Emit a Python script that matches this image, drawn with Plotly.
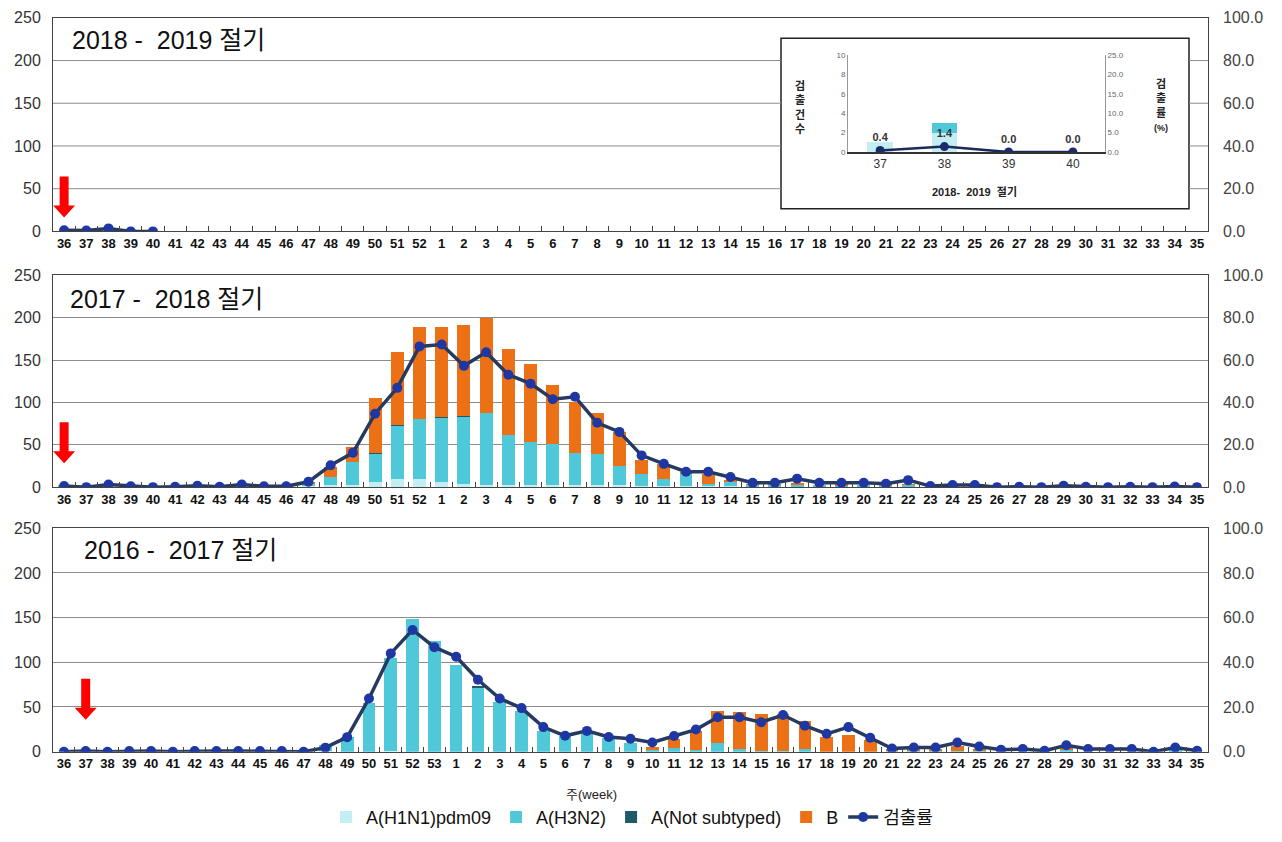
import plotly.graph_objects as go

W, H = 1282, 842

# ---------------- categories ----------------
weeks_52 = ["36", "37", "38", "39", "40", "41", "42", "43", "44", "45", "46", "47", "48", "49", "50", "51", "52",
            "1", "2", "3", "4", "5", "6", "7", "8", "9", "10", "11", "12", "13", "14", "15", "16", "17", "18",
            "19", "20", "21", "22", "23", "24", "25", "26", "27", "28", "29", "30", "31", "32", "33", "34", "35"]
weeks_53 = ["36", "37", "38", "39", "40", "41", "42", "43", "44", "45", "46", "47", "48", "49", "50", "51", "52", "53",
            "1", "2", "3", "4", "5", "6", "7", "8", "9", "10", "11", "12", "13", "14", "15", "16", "17", "18",
            "19", "20", "21", "22", "23", "24", "25", "26", "27", "28", "29", "30", "31", "32", "33", "34", "35"]

# ---------------- 2018-2019 ----------------
weeks_1819 = ["36", "37", "38", "39", "40"]
h1n1_1819 = [0, 1, 2, 0, 0]
h3n2_1819 = [0, 0, 1, 0, 0]
ns_1819 = [0, 0, 0, 0, 0]
b_1819 = [0, 0, 0, 0, 0]
rate_1819 = [0.5, 0.4, 1.4, 0.0, 0.0]

# inset
inset_weeks = ["37", "38", "39", "40"]
inset_h1n1 = [1, 2, 0, 0]
inset_h3n2 = [0, 1, 0, 0]
inset_rate = [0.4, 1.4, 0.0, 0.0]

# ---------------- 2017-2018 ----------------
h1n1_1718 = [0, 0, 1, 0, 0, 0, 0, 0, 1, 0, 0, 1,
             2, 2, 6, 10, 10,
             6, 4, 3, 2, 2, 2, 2, 2, 2,
             1, 1, 1, 1, 1,
             0, 0, 0, 0, 0, 0, 0, 0, 0, 0, 0, 0, 0, 0, 0, 0, 0, 0, 0, 0, 0]
h3n2_1718 = [1, 0, 1, 1, 0, 0, 1, 0, 1, 1, 1, 3,
             10, 28, 33, 62, 70,
             76, 79, 84, 60, 51, 49, 38, 37, 23,
             15, 9, 14, 3, 5,
             2, 2, 3, 1, 1, 1, 1, 2, 0, 1, 1, 0, 0, 0, 0, 0, 0, 0, 0, 0, 0]
ns_1718 = [0, 0, 0, 0, 0, 0, 0, 0, 0, 0, 0, 0,
           0, 0, 1, 1, 1,
           1, 1, 1, 0, 0, 0, 0, 0, 0,
           0, 0, 0, 0, 0,
           0, 0, 0, 0, 0, 0, 0, 0, 0, 0, 0, 0, 0, 0, 0, 0, 0, 0, 0, 0, 0]
b_1718 = [0, 0, 0, 0, 0, 0, 0, 0, 0, 0, 0, 1,
          12, 17, 65, 87, 108,
          106, 108, 112, 101, 92, 70, 60, 49, 40,
          16, 17, 2, 11, 3,
          1, 1, 1, 0, 1, 0, 1, 1, 0, 1, 0, 0, 0, 0, 0, 0, 0, 0, 0, 0, 0]
rate_1718 = [0.5, 0.0, 1.2, 0.4, 0.0, 0.2, 0.6, 0.2, 1.2, 0.4, 0.4, 2.5,
             10.3, 16.2, 34.7, 46.9, 66.5,
             67.4, 57.3, 63.7, 53.1, 48.9, 41.5, 42.7, 30.4, 26.1,
             15.0, 11.0, 7.3, 7.3, 4.8,
             2.1, 2.1, 4.0, 2.1, 2.1, 2.1, 1.6, 3.3, 0.5, 1.0, 1.0, 0.0, 0.2, 0.0, 0.6, 0.2, 0.0, 0.2, 0.0, 0.3, 0.0]

# ---------------- 2016-2017 ----------------
h1n1_1617 = [0, 0, 0, 0, 0, 0, 0, 0, 0, 0, 0, 0,
             1, 0, 0, 1, 0, 0,
             0, 0, 0, 0, 0, 0, 0, 0, 0,
             0, 0, 0, 0, 0, 0, 0, 0, 0, 0, 0, 0, 0, 0, 0, 0, 0, 0, 0, 0, 0, 0, 0, 0, 0, 0]
h3n2_1617 = [0, 0, 0, 0, 0, 0, 0, 0, 0, 0, 0, 1,
             6, 16, 54, 104, 148, 124,
             97, 72, 56, 46, 23, 18, 20, 15, 10,
             2, 4, 2, 10, 3, 1, 1, 3, 0, 0, 0, 1, 1, 1, 1, 1, 0, 0, 0, 2, 0, 0, 0, 0, 1, 0]
ns_1617 = [0, 0, 0, 0, 0, 0, 0, 0, 0, 0, 0, 0,
           0, 0, 0, 0, 0, 0,
           0, 1, 0, 0, 0, 0, 0, 0, 0,
           0, 0, 0, 0, 0, 0, 0, 0, 0, 0, 0, 0, 0, 0, 0, 0, 0, 0, 0, 0, 0, 0, 0, 0, 0, 0]
b_1617 = [0, 0, 0, 0, 0, 0, 0, 0, 0, 0, 0, 0,
          0, 0, 0, 0, 0, 0,
          0, 0, 0, 0, 0, 0, 0, 0, 0,
          3, 10, 21, 36, 41, 41, 41, 31, 16, 19, 13, 1, 1, 1, 5, 1, 0, 0, 0, 1, 0, 0, 0, 0, 0, 0]
rate_1617 = [0.0, 0.3, 0.0, 0.3, 0.3, 0.0, 0.3, 0.3, 0.3, 0.3, 0.3, 0.0,
             1.8, 6.5, 23.8, 44.0, 54.5, 46.8,
             42.5, 32.2, 23.8, 19.5, 11.0, 7.1, 9.3, 6.6, 5.8,
             4.1, 7.0, 9.9, 15.4, 15.4, 13.2, 16.4, 11.6, 8.0, 11.0, 6.2, 1.4, 1.9, 1.9, 4.1, 2.3,
             0.9, 1.2, 0.4, 2.9, 1.2, 1.2, 1.2, 0.0, 1.9, 0.4]

series_names = ["A(H1N1)pdm09", "A(H3N2)", "A(Not subtyped)", "B"]
rate_name = "검출률"

# ---------------- styles ----------------
FONT = "Liberation Sans, Arial, Noto Sans CJK KR, sans-serif"
KFONT = "Liberation Sans, Noto Sans CJK KR, sans-serif"
C_H1, C_H3, C_NS, C_B = "#c3eef4", "#4fc8da", "#1e5a68", "#ec7116"
C_LINE, C_MK = "#26395f", "#1f37a3"
C_GRID = "#8c8c8c"


def px_x(p):
    return p / W


def px_y(p):
    return 1 - p / H


PL, PR = 53, 1208

panels = [
    dict(xa="x", ya="y", yr="y2", weeks=weeks_52, dweeks=weeks_1819,
         vals=[h1n1_1819, h3n2_1819, ns_1819, b_1819], rate=rate_1819,
         top=10, bottom=228, title="2018 -\u00a0 2019 절기", tx=70, ty=33,
         arrow_pos=0, tip=14, legend=False, grid=False),
    dict(xa="x2", ya="y3", yr="y4", weeks=weeks_52, dweeks=weeks_52,
         vals=[h1n1_1718, h3n2_1718, ns_1718, b_1718], rate=rate_1718,
         top=273, bottom=489, title="2017 -\u00a0 2018 절기", tx=68, ty=297,
         arrow_pos=0, tip=24, legend=True, grid=True),
    dict(xa="x3", ya="y5", yr="y6", weeks=weeks_53, dweeks=weeks_53,
         vals=[h1n1_1617, h3n2_1617, ns_1617, b_1617], rate=rate_1617,
         top=531, bottom=759, title="2016 -\u00a0 2017 절기", tx=82, ty=553,
         arrow_pos=1, tip=32, legend=False, grid=True),
]

colors = [C_H1, C_H3, C_NS, C_B]

fig = go.Figure()
layout = {}
shapes = []
annotations = []


def axkey(prefix, ref):
    return prefix + ref[1:]


for p in panels:
    for name, vals, col in zip(series_names, p["vals"], colors):
        fig.add_trace(go.Bar(x=p["dweeks"], y=vals, name=name,
                             marker=dict(color=col, line=dict(width=0)),
                             xaxis=p["xa"], yaxis=p["ya"], showlegend=p["legend"],
                             legendgroup=name))
    fig.add_trace(go.Scatter(x=p["dweeks"], y=p["rate"], name=rate_name, mode="lines+markers",
                             line=dict(color=C_LINE, width=3.5),
                             marker=dict(color=C_MK, size=10),
                             xaxis=p["xa"], yaxis=p["yr"], showlegend=p["legend"],
                             legendgroup="rate"))

    layout[axkey("xaxis", p["xa"])] = dict(
        domain=[px_x(PL), px_x(PR)], anchor=p["ya"], type="category",
        categoryorder="array", categoryarray=p["weeks"],
        range=[-0.5, len(p["weeks"]) - 0.5],
        tickmode="array", tickvals=p["weeks"], ticktext=p["weeks"], tickangle=0,
        tickfont=dict(family="Liberation Sans Narrow, Liberation Sans, Arial", size=13,
                      color="#111", weight="bold"),
        ticks="inside", tickson="boundaries", ticklen=5, tickcolor="#444",
        showline=True, linecolor="#444", linewidth=1, mirror=True,
        showgrid=False, zeroline=False, fixedrange=True)
    layout[axkey("yaxis", p["ya"])] = dict(
        domain=[px_y(p["bottom"]), px_y(p["top"])], anchor=p["xa"],
        range=[0, 250], tick0=0, dtick=50,
        showgrid=p["grid"], gridcolor=C_GRID, gridwidth=1,
        showline=True, linecolor="#444", linewidth=1, mirror=True,
        zeroline=False, ticks="", ticklabelstandoff=8,
        tickfont=dict(family=FONT, size=16, color="#333"), fixedrange=True)
    layout[axkey("yaxis", p["yr"])] = dict(
        overlaying=p["ya"], anchor=p["xa"], side="right",
        range=[0, 100], tick0=0, dtick=20, tickformat=".1f",
        showgrid=False, zeroline=False, showline=False, ticks="",
        ticklabelstandoff=14,
        tickfont=dict(family=FONT, size=16, color="#444"), fixedrange=True)

    annotations.append(dict(text=p["title"], xref="paper", yref="paper",
                            x=px_x(p["tx"]), y=px_y(p["ty"]), xanchor="left", yanchor="middle",
                            showarrow=False, font=dict(family=KFONT, size=25, color="#111")))

    tip = p["tip"]
    path = (f"M -4.5,{tip + 41} L 4.5,{tip + 41} L 4.5,{tip + 12} L 11,{tip + 12} "
            f"L 0,{tip} L -11,{tip + 12} L -4.5,{tip + 12} Z")
    shapes.append(dict(type="path", xref=p["xa"], yref=p["ya"], xsizemode="pixel",
                       ysizemode="pixel", xanchor=p["arrow_pos"], yanchor=0, path=path,
                       fillcolor="#ff0000", line=dict(width=0), layer="above"))

# ---------------- inset ----------------
IX0, IX1, IY0, IY1 = 781, 1189, 31, 205
shapes.append(dict(type="rect", xref="paper", yref="paper",
                   x0=px_x(IX0), x1=px_x(IX1), y0=px_y(IY1), y1=px_y(IY0),
                   fillcolor="white", line=dict(color="#222", width=1.5), layer="below"))
# top panel gridlines, interrupted by the inset box
for v in [50, 100, 150, 200]:
    for a, b in [(PL, IX0), (IX1, PR)]:
        shapes.append(dict(type="line", xref="paper", yref="y", x0=px_x(a), x1=px_x(b),
                           y0=v, y1=v, line=dict(color=C_GRID, width=1), layer="below"))

for name, vals, col in zip(series_names[:2], [inset_h1n1, inset_h3n2], [C_H1, C_H3]):
    fig.add_trace(go.Bar(x=inset_weeks, y=vals, name=name, width=0.4,
                         marker=dict(color=col, line=dict(width=0)),
                         xaxis="x4", yaxis="y7", showlegend=False))
fig.add_trace(go.Scatter(x=inset_weeks, y=inset_rate, name=rate_name,
                         mode="lines+markers+text", texttemplate="%{y:.1f}",
                         textposition="top center",
                         textfont=dict(family=FONT, size=11, color="#333", weight="bold"),
                         line=dict(color="#1c2a58", width=2.5),
                         marker=dict(color="#1c2a70", size=9),
                         xaxis="x4", yaxis="y8", showlegend=False))

layout["xaxis4"] = dict(domain=[px_x(848), px_x(1105)], anchor="y7", type="category",
                        categoryorder="array", categoryarray=inset_weeks, tickangle=0,
                        showline=True, linecolor="#333", linewidth=1.5, ticks="",
                        tickfont=dict(family=FONT, size=12, color="#333"),
                        showgrid=False, zeroline=False, fixedrange=True)
layout["yaxis7"] = dict(domain=[px_y(147), px_y(48)], anchor="x4", range=[0, 10], dtick=2,
                        showline=True, linecolor="#999", ticks="", showgrid=False,
                        zeroline=False, tickfont=dict(family=FONT, size=8, color="#666"),
                        fixedrange=True)
layout["yaxis8"] = dict(overlaying="y7", anchor="x4", side="right", range=[0, 25], dtick=5,
                        tickformat=".1f", showline=True, linecolor="#999", ticks="",
                        showgrid=False, zeroline=False,
                        tickfont=dict(family=FONT, size=8, color="#666"), fixedrange=True)

annotations.append(dict(text="검<br>출<br>건<br>수", xref="paper", yref="paper",
                        x=px_x(800), y=px_y(102), xanchor="center", yanchor="middle",
                        showarrow=False,
                        font=dict(family=KFONT, size=11, color="#222", weight="bold")))
annotations.append(dict(text="검<br>출<br>률<br><span style='font-size:9px'>(%)</span>",
                        xref="paper", yref="paper", x=px_x(1161), y=px_y(100),
                        xanchor="center", yanchor="middle", showarrow=False,
                        font=dict(family=KFONT, size=11, color="#222", weight="bold")))
annotations.append(dict(text="2018-\u00a0 2019\u00a0 절기", xref="paper", yref="paper",
                        x=px_x(974), y=px_y(187), xanchor="center", yanchor="middle",
                        showarrow=False,
                        font=dict(family=KFONT, size=11, color="#222", weight="bold")))

# x axis title
annotations.append(dict(text="주(week)", xref="paper", yref="paper", x=px_x(591), y=px_y(803),
                        xanchor="center", yanchor="middle", showarrow=False,
                        font=dict(family=KFONT, size=13, color="#222")))

fig.update_layout(layout)
fig.update_layout(
    width=W, height=H, autosize=False,
    margin=dict(l=0, r=0, t=0, b=0),
    paper_bgcolor="white", plot_bgcolor="white",
    barmode="stack", bargap=0.42,
    shapes=shapes, annotations=annotations,
    legend=dict(orientation="h", x=px_x(632), xanchor="center", y=px_y(826), yanchor="middle",
                traceorder="normal", font=dict(family=KFONT, size=18, color="#111"),
                itemwidth=30, bgcolor="rgba(0,0,0,0)"),
    font=dict(family=KFONT),
)

fig.write_html("out.html", config={"displayModeBar": False},
               post_script="document.body.style.margin='0px';")
